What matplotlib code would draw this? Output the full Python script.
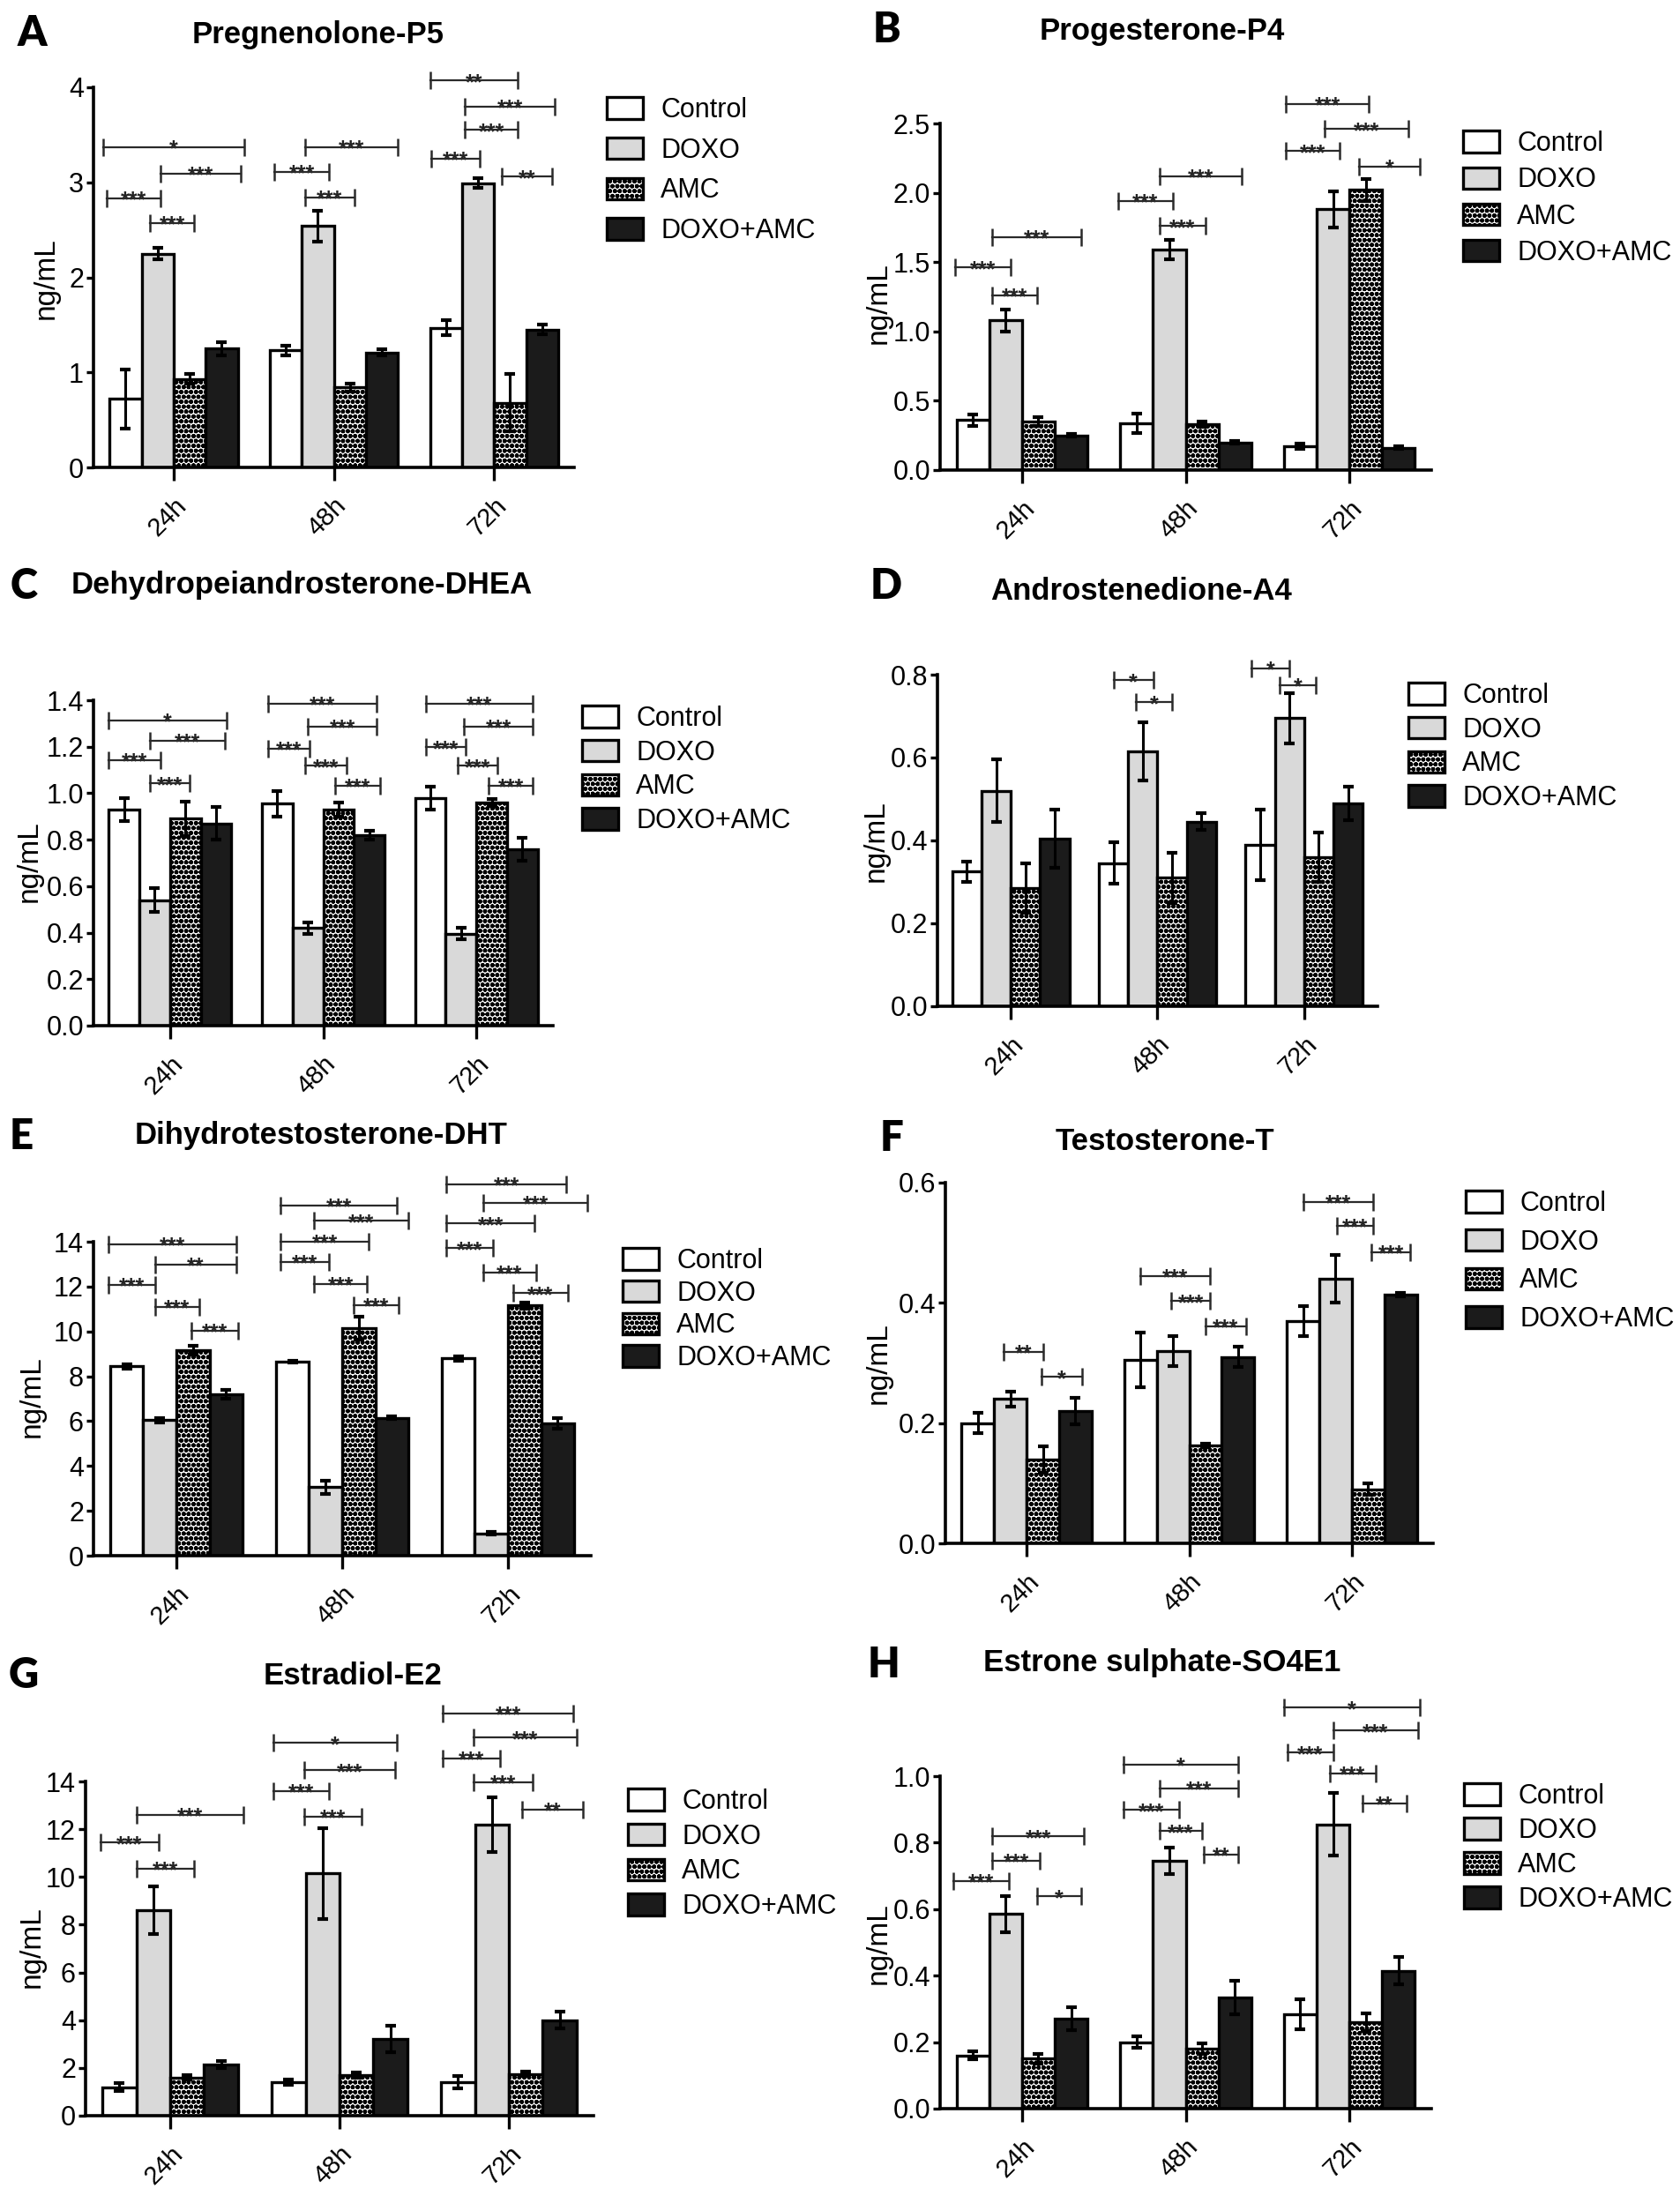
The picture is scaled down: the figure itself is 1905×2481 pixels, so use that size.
import numpy as np
import matplotlib
matplotlib.use('Agg')
import matplotlib.pyplot as plt

# ---- data ----
groups = ['Control', 'DOXO', 'AMC', 'DOXO+AMC']
times = ['24h', '48h', '72h']

# A  Pregnenolone-P5   rows: Control, DOXO, AMC, DOXO+AMC ; cols: 24h, 48h, 72h
p5_mean = [[0.72, 1.23, 1.47], [2.25, 2.54, 2.99], [0.93, 0.84, 0.68], [1.25, 1.21, 1.45]]
p5_err = [[0.31, 0.05, 0.08], [0.06, 0.16, 0.05], [0.05, 0.04, 0.30], [0.07, 0.03, 0.05]]
# significance: (time index, x start, x end (relative to group centre), height, label)
p5_sig = [(0, -0.44, 0.44, 3.37, '*'), (0, -0.08, 0.42, 3.09, '***'),
          (0, -0.42, -0.08, 2.83, '***'), (0, -0.15, 0.13, 2.57, '***'),
          (1, -0.18, 0.40, 3.37, '***'), (1, -0.37, -0.03, 3.11, '***'),
          (1, -0.18, 0.13, 2.84, '***'),
          (2, -0.40, 0.15, 4.07, '**'), (2, -0.18, 0.38, 3.80, '***'),
          (2, -0.18, 0.15, 3.55, '***'), (2, -0.39, -0.09, 3.25, '***'),
          (2, 0.05, 0.36, 3.06, '**')]

# B  Progesterone-P4
p4_mean = [[0.36, 0.34, 0.17], [1.08, 1.59, 1.88], [0.35, 0.33, 2.02], [0.25, 0.20, 0.16]]
p4_err = [[0.04, 0.07, 0.02], [0.08, 0.07, 0.13], [0.03, 0.02, 0.08], [0.01, 0.01, 0.01]]
p4_sig = [(0, -0.18, 0.36, 1.68, '***'), (0, -0.41, -0.07, 1.46, '***'),
          (0, -0.18, 0.09, 1.26, '***'),
          (1, -0.16, 0.34, 2.12, '***'), (1, -0.41, -0.08, 1.94, '***'),
          (1, -0.16, 0.12, 1.76, '***'),
          (2, -0.39, 0.12, 2.64, '***'), (2, -0.15, 0.36, 2.46, '***'),
          (2, -0.39, -0.06, 2.30, '***'), (2, 0.06, 0.43, 2.19, '*')]

# C  Dehydropeiandrosterone-DHEA
dhea_mean = [[0.93, 0.955, 0.98], [0.54, 0.42, 0.395], [0.89, 0.93, 0.96], [0.87, 0.82, 0.76]]
dhea_err = [[0.05, 0.055, 0.05], [0.05, 0.025, 0.025], [0.075, 0.03, 0.015], [0.07, 0.02, 0.05]]
dhea_sig = [(0, -0.40, 0.37, 1.313, '*'), (0, -0.13, 0.36, 1.226, '***'),
            (0, -0.40, -0.06, 1.142, '***'), (0, -0.13, 0.13, 1.043, '***'),
            (1, -0.36, 0.35, 1.385, '***'), (1, -0.10, 0.35, 1.287, '***'),
            (1, -0.36, -0.09, 1.193, '***'), (1, -0.12, 0.15, 1.118, '***'),
            (1, 0.08, 0.37, 1.033, '***'),
            (2, -0.33, 0.37, 1.385, '***'), (2, -0.08, 0.37, 1.287, '***'),
            (2, -0.33, -0.07, 1.198, '***'), (2, -0.12, 0.14, 1.118, '***'),
            (2, 0.08, 0.37, 1.033, '***')]

# D  Androstenedione-A4
a4_mean = [[0.325, 0.345, 0.39], [0.52, 0.615, 0.695], [0.285, 0.31, 0.36], [0.405, 0.445, 0.49]]
a4_err = [[0.025, 0.05, 0.085], [0.075, 0.07, 0.06], [0.06, 0.06, 0.06], [0.07, 0.02, 0.04]]
a4_sig = [(1, -0.30, -0.03, 0.787, '*'), (1, -0.15, 0.10, 0.733, '*'),
          (2, -0.36, -0.10, 0.815, '*'), (2, -0.17, 0.08, 0.775, '*')]

# E  Dihydrotestosterone-DHT
dht_mean = [[8.45, 8.65, 8.8], [6.05, 3.05, 1.0], [9.15, 10.15, 11.15], [7.2, 6.15, 5.9]]
dht_err = [[0.1, 0.05, 0.1], [0.1, 0.3, 0.07], [0.2, 0.5, 0.15], [0.2, 0.05, 0.25]]
dht_sig = [(0, -0.41, 0.36, 13.89, '***'), (0, -0.13, 0.36, 12.99, '**'),
           (0, -0.41, -0.13, 12.08, '***'), (0, -0.13, 0.14, 11.09, '***'),
           (0, 0.09, 0.37, 10.03, '***'),
           (1, -0.37, 0.33, 15.63, '***'), (1, -0.17, 0.40, 14.93, '***'),
           (1, -0.37, 0.16, 14.00, '***'), (1, -0.37, -0.08, 13.11, '***'),
           (1, -0.17, 0.15, 12.13, '***'), (1, 0.07, 0.34, 11.17, '***'),
           (2, -0.37, 0.35, 16.56, '***'), (2, -0.15, 0.48, 15.74, '***'),
           (2, -0.37, 0.16, 14.82, '***'), (2, -0.37, -0.09, 13.72, '***'),
           (2, -0.15, 0.17, 12.64, '***'), (2, 0.03, 0.36, 11.71, '***')]

# F  Testosterone-T
t_mean = [[0.20, 0.305, 0.37], [0.24, 0.32, 0.44], [0.14, 0.163, 0.09], [0.22, 0.31, 0.414]]
t_err = [[0.017, 0.045, 0.025], [0.013, 0.025, 0.04], [0.022, 0.003, 0.01], [0.022, 0.017, 0.003]]
t_sig = [(0, -0.14, 0.10, 0.319, '**'), (0, 0.09, 0.34, 0.277, '*'),
         (1, -0.30, 0.13, 0.445, '***'), (1, -0.11, 0.13, 0.403, '***'),
         (1, 0.10, 0.35, 0.361, '***'),
         (2, -0.30, 0.13, 0.568, '***'), (2, -0.09, 0.13, 0.528, '***'),
         (2, 0.12, 0.36, 0.484, '***')]

# G  Estradiol-E2
e2_mean = [[1.2, 1.4, 1.4], [8.6, 10.15, 12.2], [1.6, 1.7, 1.75], [2.15, 3.2, 4.0]]
e2_err = [[0.15, 0.12, 0.25], [1.0, 1.9, 1.15], [0.1, 0.1, 0.1], [0.15, 0.55, 0.35]]
e2_sig = [(0, -0.20, 0.43, 12.61, '***'), (0, -0.41, -0.07, 11.44, '***'),
          (0, -0.20, 0.14, 10.34, '***'),
          (1, -0.39, 0.34, 15.62, '*'), (1, -0.21, 0.33, 14.47, '***'),
          (1, -0.39, -0.06, 13.61, '***'), (1, -0.21, 0.13, 12.54, '***'),
          (2, -0.39, 0.38, 16.86, '***'), (2, -0.21, 0.40, 15.84, '***'),
          (2, -0.39, -0.05, 14.96, '***'), (2, -0.21, 0.14, 13.97, '***'),
          (2, 0.08, 0.44, 12.83, '**')]

# H  Estrone sulphate-SO4E1
se1_mean = [[0.16, 0.20, 0.285], [0.585, 0.745, 0.855], [0.15, 0.18, 0.26], [0.27, 0.335, 0.415]]
se1_err = [[0.012, 0.017, 0.045], [0.055, 0.04, 0.095], [0.015, 0.015, 0.027], [0.035, 0.05, 0.04]]
se1_sig = [(0, -0.18, 0.38, 0.819, '***'), (0, -0.18, 0.11, 0.746, '***'),
           (0, -0.42, -0.08, 0.685, '***'), (0, 0.09, 0.36, 0.638, '*'),
           (1, -0.38, 0.32, 1.035, '*'), (1, -0.16, 0.32, 0.964, '***'),
           (1, -0.38, -0.04, 0.898, '***'), (1, -0.16, 0.10, 0.835, '***'),
           (1, 0.11, 0.32, 0.765, '**'),
           (2, -0.40, 0.43, 1.206, '*'), (2, -0.10, 0.42, 1.137, '***'),
           (2, -0.38, -0.10, 1.071, '***'), (2, -0.12, 0.16, 1.008, '***'),
           (2, 0.08, 0.35, 0.919, '**')]

panels = [
    ('A', 'Pregnenolone-P5', p5_mean, p5_err, p5_sig, 4, np.arange(0, 4.1, 1), '%d'),
    ('B', 'Progesterone-P4', p4_mean, p4_err, p4_sig, 2.5, np.arange(0, 2.51, 0.5), '%.1f'),
    ('C', 'Dehydropeiandrosterone-DHEA', dhea_mean, dhea_err, dhea_sig, 1.4, np.arange(0, 1.41, 0.2), '%.1f'),
    ('D', 'Androstenedione-A4', a4_mean, a4_err, a4_sig, 0.8, np.arange(0, 0.81, 0.2), '%.1f'),
    ('E', 'Dihydrotestosterone-DHT', dht_mean, dht_err, dht_sig, 14, np.arange(0, 14.1, 2), '%d'),
    ('F', 'Testosterone-T', t_mean, t_err, t_sig, 0.6, np.arange(0, 0.61, 0.2), '%.1f'),
    ('G', 'Estradiol-E2', e2_mean, e2_err, e2_sig, 14, np.arange(0, 14.1, 2), '%d'),
    ('H', 'Estrone sulphate-SO4E1', se1_mean, se1_err, se1_sig, 1.0, np.arange(0, 1.01, 0.2), '%.1f'),
]

# ---- layout in figure pixels ----
# axes (left, right, top, bottom), title centre, letter centre, legend top-left, row pitch, ylabel centre
layout = {
    'A': ((106, 651, 99, 530), (361, 40), (36, 38), (688, 110), 49.7, (52, 316)),
    'B': ((1066, 1623, 140, 533), (1318, 36), (1005, 34), (1659, 148), 45.3, (996, 344)),
    'C': ((106, 627, 794, 1163), (342, 663), (27, 665), (660, 800), 42.7, (33, 977)),
    'D': ((1063, 1562, 765, 1141), (1294, 671), (1005, 665), (1597, 774), 42.7, (993, 954)),
    'E': ((106, 670, 1408, 1764), (364, 1287), (24, 1289), (706, 1415), 40.7, (36, 1584)),
    'F': ((1072, 1625, 1341, 1750), (1321, 1295), (1011, 1291), (1662, 1350), 47.7, (996, 1546)),
    'G': ((97, 673, 2020, 2399), (400, 1900), (27, 1900), (712, 2028), 43.7, (36, 2208)),
    'H': ((1066, 1623, 2014, 2391), (1318, 1886), (1002, 1888), (1660, 2022), 43.0, (996, 2204)),
}

W, H = 1905, 2481
plt.rcParams['font.family'] = ['Liberation Sans Narrow', 'Liberation Sans', 'DejaVu Sans']
plt.rcParams['hatch.linewidth'] = 1.8

face = ['white', '#d9d9d9', 'white', '#1b1b1b']
hatches = [None, None, 'ooo', None]
offsets = [-0.3, -0.1, 0.1, 0.3]

fig = plt.figure(figsize=(W / 100, H / 100), dpi=100)

for letter, title, mean, err, sig, ymax, yticks, fmt in panels:
    (l, r, t, b), tpos, lpos, legpos, pitch, ylpos = layout[letter]
    ax = fig.add_axes([l / W, 1 - b / H, (r - l) / W, (b - t) / H])
    x = np.arange(len(times))
    handles = []
    for k in range(4):
        bars = ax.bar(x + offsets[k], mean[k], 0.2, yerr=err[k], color=face[k],
                      edgecolor='black', linewidth=2.4, hatch=hatches[k], label=groups[k],
                      error_kw=dict(ecolor='black', elinewidth=2.2, capsize=4, capthick=3, zorder=3),
                      zorder=2)
        handles.append(bars)
    for g, x0, x1, y, txt in sig:
        ax.plot([g + x0, g + x1], [y, y], color='#2a2a2a', lw=1.6, marker='|',
                markersize=14, mew=1.8, clip_on=False, zorder=4)
        ax.annotate(txt, (g + (x0 + x1) / 2, y), xytext=(0, -7), textcoords='offset points',
                    ha='center', va='baseline', fontsize=18, fontweight='bold',
                    family='Liberation Sans', color='#222222', annotation_clip=False)
    ax.set_xlim(-0.5, 2.5)
    ax.set_ylim(0, ymax)
    ax.set_yticks(yticks)
    ax.set_yticklabels([fmt % v for v in yticks])
    ax.set_xticks(x)
    ax.set_xticklabels(times)
    for s in ['top', 'right']:
        ax.spines[s].set_visible(False)
    for s in ['left', 'bottom']:
        ax.spines[s].set_linewidth(2.6)
    ax.tick_params(axis='y', length=6, width=2.4, labelsize=22, pad=2)
    ax.tick_params(axis='x', length=11, width=2.4, labelsize=21, pad=10)
    plt.setp(ax.get_xticklabels(), rotation=45, ha='right', rotation_mode='anchor')
    ax.legend(handles=handles, loc='upper left',
              bbox_to_anchor=(legpos[0] / W, 1 - legpos[1] / H), bbox_transform=fig.transFigure,
              frameon=False, borderpad=0, borderaxespad=0, fontsize=22,
              handlelength=1.35, handleheight=0.85, handletextpad=0.65,
              labelspacing=(pitch - 34) / 30.6)
    fig.text(tpos[0] / W, 1 - tpos[1] / H, title, ha='center', va='center',
             fontsize=25, fontweight='bold')
    fig.text(lpos[0] / W, 1 - lpos[1] / H, letter, ha='center', va='center',
             fontsize=34, fontweight='heavy', family='Lato')
    fig.text(ylpos[0] / W, 1 - ylpos[1] / H, 'ng/mL', ha='center', va='center',
             rotation=90, fontsize=24, family='Liberation Sans')

fig.savefig('out.png', dpi=100)
